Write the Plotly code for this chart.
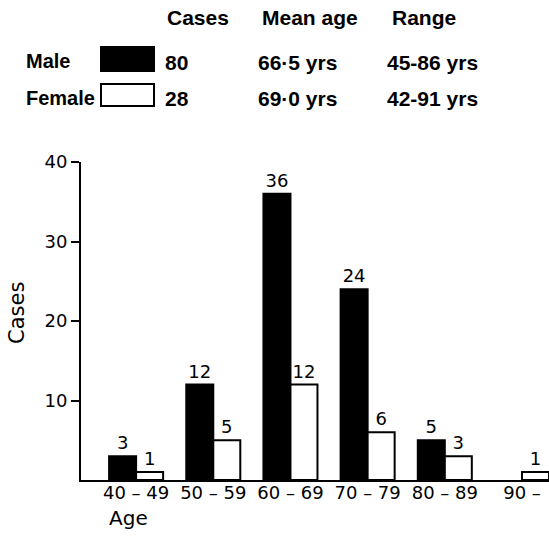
import plotly.graph_objects as go

# ---- data ----
age_groups = ["40 – 49", "50 – 59", "60 – 69", "70 – 79", "80 – 89", "90 –"]
male_cases = [3, 12, 36, 24, 5, 0]
female_cases = [1, 5, 12, 6, 3, 1]

summary_header = ["Cases", "Mean age", "Range"]
male_summary = ["80", "66·5 yrs", "45-86 yrs"]
female_summary = ["28", "69·0 yrs", "42-91 yrs"]
y_ticks = [10, 20, 30, 40]

W, H = 549, 538
L, R, T, B = 81, 0, 162, 58
PW, PH = W - L - R, H - T - B

def px(x):
    return (x - L) / PW

def py(y):
    return (H - B - y) / PH

chart_font = "DejaVu Sans"
head_font = "Liberation Sans"

fig = go.Figure()
fig.add_trace(go.Bar(
    x=list(range(len(age_groups))), y=male_cases, name="Male",
    marker=dict(color="black",
                line=dict(color="black", width=[2 if v > 0 else 0 for v in male_cases])),
    text=[str(v) if v > 0 else "" for v in male_cases],
    textposition="outside", cliponaxis=False,
    textfont=dict(family=chart_font, size=18, color="black"),
))
fig.add_trace(go.Bar(
    x=list(range(len(age_groups))), y=female_cases, name="Female",
    marker=dict(color="white",
                line=dict(color="black", width=[2 if v > 0 else 0 for v in female_cases])),
    text=[str(v) if v > 0 else "" for v in female_cases],
    textposition="outside", cliponaxis=False,
    textfont=dict(family=chart_font, size=18, color="black"),
))

fig.update_layout(
    width=W, height=H,
    margin=dict(l=L, r=R, t=T, b=B),
    paper_bgcolor="white", plot_bgcolor="white",
    barmode="group", bargap=0.30, bargroupgap=0,
    showlegend=False, hovermode=False,
    font=dict(family=chart_font, size=18, color="black"),
)
fig.update_xaxes(
    range=[-0.714, 5.35],
    tickvals=list(range(len(age_groups))), ticktext=age_groups,
    showline=True, linecolor="black", linewidth=2,
    showgrid=False, zeroline=False, ticks="",
    tickfont=dict(family=chart_font, size=18),
    ticklabelstandoff=-5,
    automargin=False,
)
fig.update_yaxes(
    range=[0, 40], tickvals=y_ticks,
    showline=True, linecolor="black", linewidth=2,
    showgrid=False, zeroline=False,
    ticks="outside", ticklen=8, tickwidth=2, tickcolor="black",
    tickfont=dict(family=chart_font, size=18),
    automargin=False,
)

ann = []
# axis titles
ann.append(dict(x=px(107), y=py(518), xref="paper", yref="paper", text="Age",
                showarrow=False, xanchor="left", yanchor="middle",
                font=dict(family=chart_font, size=20)))
ann.append(dict(x=px(17), y=py(313), xref="paper", yref="paper", text="Cases",
                showarrow=False, xanchor="center", yanchor="middle", textangle=-90,
                font=dict(family=chart_font, size=21)))

# summary table
col_x = [165, 260, 390]
row_y = [17, 61, 98]
val_x = [163, 256, 385]
for i, h in enumerate(summary_header):
    ann.append(dict(x=px(col_x[i]), y=py(row_y[0]), xref="paper", yref="paper",
                    text="<b>%s</b>" % h, showarrow=False, xanchor="left", yanchor="middle",
                    font=dict(family=head_font, size=21)))
for label, vals, yy in (("Male", male_summary, row_y[1]), ("Female", female_summary, row_y[2])):
    ann.append(dict(x=px(24), y=py(yy), xref="paper", yref="paper",
                    text="<b>%s</b>" % label, showarrow=False, xanchor="left", yanchor="middle",
                    font=dict(family=head_font, size=20)))
    for i, v in enumerate(vals):
        ann.append(dict(x=px(val_x[i]), y=py(yy + 1), xref="paper", yref="paper",
                        text="<b>%s</b>" % v, showarrow=False, xanchor="left", yanchor="middle",
                        font=dict(family=head_font, size=21)))
fig.update_layout(annotations=ann)

# legend swatches
fig.add_shape(type="rect", xref="paper", yref="paper",
              x0=px(101), x1=px(154), y0=py(47), y1=py(71),
              fillcolor="black", line=dict(color="black", width=2))
fig.add_shape(type="rect", xref="paper", yref="paper",
              x0=px(101), x1=px(154), y0=py(84), y1=py(106),
              fillcolor="white", line=dict(color="black", width=2))

fig.write_html("out.html",
               config={"displayModeBar": False, "staticPlot": True},
               post_script="document.body.style.margin='0';document.body.style.overflow='hidden';")
